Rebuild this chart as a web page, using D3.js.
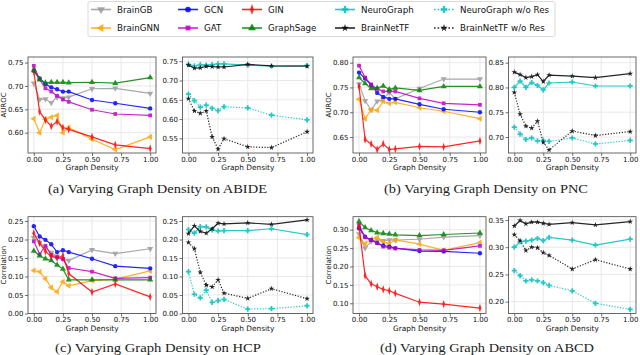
<!doctype html>
<html>
<head>
<meta charset="utf-8">
<title>Varying Graph Density</title>
<style>
  body { margin: 0; background: #fff; }
  svg { display: block; font-family: "DejaVu Sans", sans-serif; }
</style>
</head>
<body>
<div id="vis"></div>
<script src="https://d3js.org/d3.v7.min.js"></script>
<script>
var density = [0, 0.05, 0.1, 0.15, 0.2, 0.25, 0.3, 0.5, 0.7, 1.0];
var xTicks = [0, 0.25, 0.5, 0.75, 1.0];

// baseline GNNs (left panels)
var abideBase = {
  'BrainGB':   [0.706, 0.671, 0.672, 0.664, 0.676, 0.674, 0.676, 0.694, 0.695, 0.684],
  'BrainGNN':  [0.630, 0.600, 0.629, 0.633, 0.637, 0.600, 0.611, 0.586, 0.564, 0.591],
  'GCN':       [0.733, 0.716, 0.704, 0.697, 0.693, 0.688, 0.688, 0.670, 0.663, 0.652],
  'GAT':       [0.743, 0.714, 0.695, 0.688, 0.679, 0.671, 0.666, 0.649, 0.640, 0.637],
  'GIN':       [0.731, 0.645, 0.627, 0.614, 0.624, 0.611, 0.607, 0.591, 0.574, 0.566],
  'GraphSage': [0.733, 0.714, 0.707, 0.708, 0.708, 0.708, 0.707, 0.708, 0.706, 0.718]
};
var pncBase = {
  'BrainGB':   [0.757, 0.723, 0.705, 0.722, 0.726, 0.740, 0.727, 0.748, 0.767, 0.767],
  'BrainGNN':  [0.726, 0.687, 0.705, 0.704, 0.722, 0.718, 0.720, 0.709, 0.702, 0.687],
  'GCN':       [0.780, 0.768, 0.755, 0.739, 0.731, 0.727, 0.727, 0.716, 0.706, 0.700],
  'GAT':       [0.794, 0.770, 0.756, 0.747, 0.742, 0.742, 0.742, 0.728, 0.718, 0.715],
  'GIN':       [0.752, 0.645, 0.636, 0.625, 0.636, 0.625, 0.626, 0.631, 0.630, 0.642],
  'GraphSage': [0.770, 0.758, 0.748, 0.749, 0.753, 0.746, 0.749, 0.744, 0.752, 0.752]
};
var hcpBase = {
  'BrainGB':   [0.205, 0.192, 0.178, 0.165, 0.155, 0.147, 0.143, 0.172, 0.162, 0.175],
  'BrainGNN':  [0.116, 0.113, 0.094, 0.070, 0.059, 0.086, 0.075, 0.089, 0.093, 0.115],
  'GCN':       [0.236, 0.208, 0.199, 0.187, 0.166, 0.171, 0.166, 0.148, 0.128, 0.122],
  'GAT':       [0.195, 0.160, 0.183, 0.158, 0.152, 0.147, 0.123, 0.113, 0.095, 0.097],
  'GIN':       [0.217, 0.190, 0.168, 0.154, 0.150, 0.156, 0.108, 0.058, 0.080, 0.045],
  'GraphSage': [0.169, 0.156, 0.148, 0.143, 0.131, 0.120, 0.091, 0.091, 0.091, 0.091]
};
var abcdBase = {
  'BrainGB':   [0.288, 0.250, 0.268, 0.272, 0.270, 0.272, 0.272, 0.274, 0.280, 0.284],
  'BrainGNN':  [0.278, 0.262, 0.274, 0.279, 0.268, 0.262, 0.272, 0.261, 0.244, 0.265],
  'GCN':       [0.304, 0.281, 0.272, 0.264, 0.257, 0.254, 0.250, 0.242, 0.241, 0.236],
  'GAT':       [0.313, 0.279, 0.272, 0.264, 0.254, 0.251, 0.249, 0.245, 0.244, 0.256],
  'GIN':       [0.308, 0.175, 0.153, 0.145, 0.138, 0.134, 0.127, 0.103, 0.098, 0.087],
  'GraphSage': [0.322, 0.306, 0.298, 0.292, 0.290, 0.288, 0.286, 0.284, 0.287, 0.291]
};

// residual models (right panels)
var abideRes = {
  'NeuroGraph':         [0.742, 0.738, 0.741, 0.740, 0.741, 0.743, 0.743, 0.740, 0.737, 0.739],
  'BrainNetTF':         [0.740, 0.732, 0.733, 0.737, 0.736, 0.735, 0.735, 0.742, 0.738, 0.737],
  'NeuroGraph w/o Res': [0.665, 0.648, 0.631, 0.636, 0.628, 0.622, 0.632, 0.629, 0.610, 0.598],
  'BrainNetTF w/o Res': [0.653, 0.621, 0.615, 0.621, 0.554, 0.522, 0.549, 0.528, 0.526, 0.567]
};
var pncRes = {
  'NeuroGraph':         [0.800, 0.813, 0.800, 0.810, 0.804, 0.795, 0.809, 0.811, 0.803, 0.803],
  'BrainNetTF':         [0.831, 0.826, 0.820, 0.822, 0.826, 0.812, 0.825, 0.823, 0.820, 0.828],
  'NeuroGraph w/o Res': [0.720, 0.706, 0.695, 0.698, 0.692, 0.693, 0.691, 0.698, 0.686, 0.693],
  'BrainNetTF w/o Res': [0.790, 0.746, 0.722, 0.718, 0.732, 0.689, 0.674, 0.712, 0.703, 0.711]
};
var hcpRes = {
  'NeuroGraph':         [0.227, 0.217, 0.235, 0.234, 0.226, 0.223, 0.224, 0.224, 0.229, 0.213],
  'BrainNetTF':         [0.216, 0.237, 0.222, 0.217, 0.229, 0.244, 0.242, 0.245, 0.241, 0.253],
  'NeuroGraph w/o Res': [0.113, 0.052, 0.042, 0.063, 0.030, 0.035, 0.038, 0.012, 0.013, 0.021],
  'BrainNetTF w/o Res': [0.192, 0.175, 0.111, 0.077, 0.072, 0.091, 0.055, 0.041, 0.067, 0.040]
};
var abcdRes = {
  'NeuroGraph':         [0.300, 0.310, 0.311, 0.313, 0.316, 0.312, 0.318, 0.313, 0.304, 0.315],
  'BrainNetTF':         [0.339, 0.349, 0.343, 0.346, 0.346, 0.344, 0.342, 0.345, 0.341, 0.347],
  'NeuroGraph w/o Res': [0.257, 0.248, 0.238, 0.240, 0.238, 0.235, 0.230, 0.220, 0.197, 0.186],
  'BrainNetTF w/o Res': [0.323, 0.312, 0.294, 0.300, 0.299, 0.290, 0.285, 0.260, 0.277, 0.260]
};

var captions = [
  '(a) Varying Graph Density on ABIDE',
  '(b) Varying Graph Density on PNC',
  '(c) Varying Graph Density on HCP',
  '(d) Varying Graph Density on ABCD'
];

// legend order (column major, 5 columns x 2 rows)
var legendOrder = ['BrainGB', 'BrainGNN', 'GCN', 'GAT', 'GIN', 'GraphSage',
  'NeuroGraph', 'BrainNetTF', 'NeuroGraph w/o Res', 'BrainNetTF w/o Res'];

var styles = {
  'BrainGB':            { color: '#9a9a9a', marker: 'down' },
  'BrainGNN':           { color: '#ffa500', marker: 'left' },
  'GCN':                { color: '#0000ff', marker: 'circle' },
  'GAT':                { color: '#c000c0', marker: 'square' },
  'GIN':                { color: '#ff0000', marker: 'thin' },
  'GraphSage':          { color: '#008000', marker: 'up' },
  'NeuroGraph':         { color: '#00bfbf', marker: 'plus' },
  'BrainNetTF':         { color: '#000000', marker: 'star' },
  'NeuroGraph w/o Res': { color: '#00bfbf', marker: 'plus', dash: '1.2,1.6' },
  'BrainNetTF w/o Res': { color: '#000000', marker: 'star', dash: '1.2,1.6' }
};

var width = 640, height = 355;
var svg = d3.select('#vis').append('svg')
  .attr('width', width).attr('height', height);

function markerPath(m) {
  var t = { circle: [d3.symbolCircle, 15], square: [d3.symbolSquare, 14],
    up: [d3.symbolTriangle, 16], down: [d3.symbolTriangle, 16], left: [d3.symbolTriangle, 16],
    thin: [d3.symbolDiamond, 20], plus: [d3.symbolCross, 15], star: [d3.symbolStar, 10] }[m];
  return d3.symbol().type(t[0]).size(t[1])();
}
function markerTransform(m, px, py) {
  var s = 'translate(' + px + ',' + py + ')';
  if (m === 'down') s += ' rotate(180)';
  if (m === 'left') s += ' rotate(-90)';
  if (m === 'thin') s += ' scale(0.6,1)';
  return s;
}

var row1 = { top: 57, bottom: 153 };
var row2 = { top: 216.7, bottom: 313.5 };
var colA = { left: 28, right: 156 }, colB = { left: 182.5, right: 313 };
var colC = { left: 353, right: 486 }, colD = { left: 508.5, right: 636 };

var panels = [
  { row: row1, col: colA, data: abideBase, yDomain: [0.5565, 0.762], yTicks: [0.60, 0.65, 0.70, 0.75], ylabel: 'AUROC' },
  { row: row1, col: colB, data: abideRes, yDomain: [0.512, 0.761], yTicks: [0.55, 0.60, 0.65, 0.70, 0.75] },
  { row: row1, col: colC, data: pncBase, yDomain: [0.6177, 0.8115], yTicks: [0.65, 0.70, 0.75, 0.80], ylabel: 'AUROC' },
  { row: row1, col: colD, data: pncRes, yDomain: [0.6677, 0.8615], yTicks: [0.70, 0.75, 0.80, 0.85] },
  { row: row2, col: colA, data: hcpBase, yDomain: [0, 0.2616], yTicks: [0, 0.05, 0.10, 0.15, 0.20, 0.25], ylabel: 'Correlation' },
  { row: row2, col: colB, data: hcpRes, yDomain: [0, 0.2616], yTicks: [0, 0.05, 0.10, 0.15, 0.20, 0.25] },
  { row: row2, col: colC, data: abcdBase, yDomain: [0.0723, 0.3353], yTicks: [0.10, 0.15, 0.20, 0.25, 0.30], ylabel: 'Correlation' },
  { row: row2, col: colD, data: abcdRes, yDomain: [0.1783, 0.356], yTicks: [0.20, 0.25, 0.30, 0.35] }
];

panels.forEach(function(p) {
  var g = svg.append('g');
  var x = d3.scaleLinear().domain([-0.05, 1.05]).range([p.col.left, p.col.right]);
  var y = d3.scaleLinear().domain(p.yDomain).range([p.row.bottom, p.row.top]);

  // grid
  g.selectAll('.vgrid').data(xTicks).enter().append('line')
    .attr('x1', function(d){ return x(d); }).attr('x2', function(d){ return x(d); })
    .attr('y1', p.row.top).attr('y2', p.row.bottom)
    .attr('stroke', '#e3e3e3').attr('stroke-width', 0.8);
  g.selectAll('.hgrid').data(p.yTicks).enter().append('line')
    .attr('y1', function(d){ return y(d); }).attr('y2', function(d){ return y(d); })
    .attr('x1', p.col.left).attr('x2', p.col.right)
    .attr('stroke', '#e3e3e3').attr('stroke-width', 0.8);

  var xa = g.append('g').attr('transform', 'translate(0,' + p.row.bottom + ')')
    .call(d3.axisBottom(x).tickValues(xTicks).tickFormat(d3.format('.2f')).tickSize(3).tickPadding(0.8));
  var ya = g.append('g').attr('transform', 'translate(' + p.col.left + ',0)')
    .call(d3.axisLeft(y).tickValues(p.yTicks).tickFormat(d3.format('.2f')).tickSize(3).tickPadding(1.5));
  [xa, ya].forEach(function(a) {
    a.select('.domain').remove();
    a.selectAll('line').attr('stroke', '#333').attr('stroke-width', 0.7);
    a.selectAll('text').attr('font-size', 7).attr('font-family', '"DejaVu Sans", sans-serif').attr('fill', '#111');
  });

  var line = d3.line().x(function(d, i){ return x(density[i]); }).y(function(d){ return y(d); });
  Object.keys(p.data).forEach(function(name) {
    var st = styles[name];
    var vals = p.data[name];
    var s = g.append('g').attr('opacity', 0.85);
    s.append('path').attr('d', line(vals))
      .attr('fill', 'none').attr('stroke', st.color).attr('stroke-width', 1.2)
      .attr('stroke-dasharray', st.dash || null);
    s.selectAll('path.mk').data(vals).enter().append('path').attr('class', 'mk')
      .attr('d', markerPath(st.marker))
      .attr('transform', function(d, i){ return markerTransform(st.marker, x(density[i]), y(d)); })
      .attr('fill', st.color);
  });

  g.append('rect')
    .attr('x', p.col.left).attr('y', p.row.top)
    .attr('width', p.col.right - p.col.left).attr('height', p.row.bottom - p.row.top)
    .attr('fill', 'none').attr('stroke', '#444').attr('stroke-width', 0.8);

  g.append('text')
    .attr('x', (p.col.left + p.col.right) / 2).attr('y', p.row.bottom + 17)
    .attr('text-anchor', 'middle').attr('font-size', 7.4).attr('fill', '#111')
    .text('Graph Density');

  if (p.ylabel) {
    var ly = (p.row.top + p.row.bottom) / 2;
    var lx = p.col.left === colA.left ? 5.5 : 331;
    g.append('text')
      .attr('transform', 'translate(' + lx + ',' + ly + ') rotate(-90)')
      .attr('text-anchor', 'middle').attr('font-size', 7).attr('fill', '#111')
      .text(p.ylabel);
  }
});

// captions
var capPos = [[157.5, 192.5, 219], [486, 192.5, 204], [158, 352, 206], [487, 352, 214]];
captions.forEach(function(c, i) {
  svg.append('text')
    .attr('x', capPos[i][0]).attr('y', capPos[i][1])
    .attr('text-anchor', 'middle')
    .attr('font-family', '"Liberation Serif", serif').attr('font-size', 13)
    .attr('textLength', capPos[i][2]).attr('lengthAdjust', 'spacingAndGlyphs')
    .attr('fill', '#222')
    .text(c);
});

// legend
var leg = svg.append('g');
leg.append('rect').attr('x', 88).attr('y', 1.5).attr('width', 467).attr('height', 35)
  .attr('rx', 2).attr('fill', '#fff').attr('stroke', '#d0d0d0').attr('stroke-width', 0.8);
var colX = [91, 178, 242, 335, 434];
var rowY = [9.5, 28];
legendOrder.forEach(function(name, i) {
  var st = styles[name];
  var lx = colX[Math.floor(i / 2)], ly = rowY[i % 2];
  var e = leg.append('g');
  e.append('line').attr('x1', lx).attr('x2', lx + 20).attr('y1', ly).attr('y2', ly)
    .attr('stroke', st.color).attr('stroke-width', 1.6).attr('opacity', 0.85)
    .attr('stroke-dasharray', st.dash ? '1.6,2' : null);
  e.append('path').attr('d', markerPath(st.marker))
    .attr('transform', markerTransform(st.marker, lx + 10, ly) + ' scale(1.3)')
    .attr('fill', st.color).attr('opacity', 0.85);
  e.append('text').attr('x', lx + 26).attr('y', ly + 3.1)
    .attr('font-size', 8.7).attr('fill', '#111').text(name);
});
</script>
</body>
</html>
